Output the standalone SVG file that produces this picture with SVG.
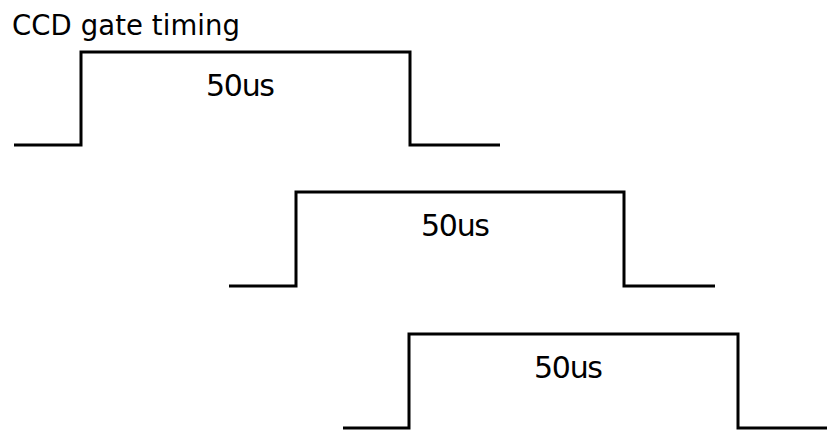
<svg xmlns="http://www.w3.org/2000/svg" width="827" height="430" viewBox="0 0 827 430">
<style>
.w{fill:none;stroke:#000;stroke-width:3;stroke-linejoin:miter;stroke-linecap:butt}
.t{font-family:"DejaVu Sans","Liberation Sans",sans-serif;fill:#000}
</style>
<rect width="827" height="430" fill="#fff"/>
<text class="t" x="12" y="35" font-size="27.5" textLength="228">CCD gate timing</text>
<g id="connectors">
<path id="pulse1" class="w" d="M14,145 H81 V52 H410 V145 H500"/>
<path id="pulse2" class="w" d="M229,286 H296 V192 H624 V286 H715"/>
<path id="pulse3" class="w" d="M343,428 H409 V334 H738 V428 H827"/>
</g>
<g id="label1"><text class="t" x="206" y="96" font-size="30" textLength="69">50us</text></g>
<g id="label2"><text class="t" x="421" y="236" font-size="30" textLength="69">50us</text></g>
<g id="label3"><text class="t" x="534" y="378" font-size="30" textLength="69">50us</text></g>
</svg>
